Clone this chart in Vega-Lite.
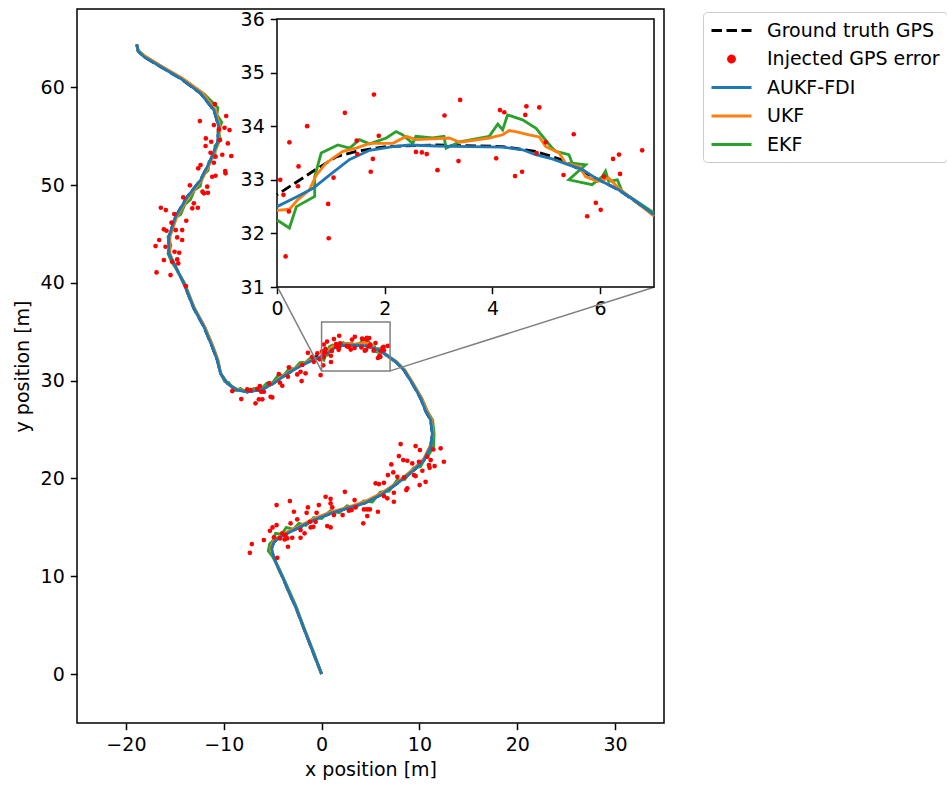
{
"$schema":"https://vega.github.io/schema/vega-lite/v6.json",
"width":587,"height":714,"autosize":"none",
"padding":{"left":77,"top":9,"right":283,"bottom":64},
"background":"white",
"config":{
 "font":"DejaVu Sans",
 "view":{"stroke":"black","strokeWidth":1.5},
 "axis":{"labelFont":"DejaVu Sans","labelFontSize":19,"labelColor":"black","titleFont":"DejaVu Sans","titleFontSize":19,"titleFontWeight":"normal","titleColor":"black","tickColor":"black","tickSize":6.7,"tickWidth":1.5,"domain":false,"grid":false,"labelPadding":6,"labelFlush":false,"labelOverlap":false}
},
"datasets":{
 "gt":[{"x":0,"y":0},{"x":-0.9,"y":2.3},{"x":-1.81,"y":4.67},{"x":-2.66,"y":6.88},{"x":-3.4,"y":8.5},{"x":-3.85,"y":9.6},{"x":-4.5,"y":11.0},{"x":-4.95,"y":12.1},{"x":-5.1,"y":12.9},{"x":-4.87,"y":13.5},{"x":-4.3,"y":14.0},{"x":-3.6,"y":14.35},{"x":-2.49,"y":14.9},{"x":-0.79,"y":15.75},{"x":0.92,"y":16.43},{"x":2.63,"y":16.94},{"x":4.33,"y":17.45},{"x":6.03,"y":18.3},{"x":7.74,"y":19.5},{"x":9.44,"y":20.86},{"x":10.46,"y":21.88},{"x":11.15,"y":23.24},{"x":11.32,"y":24.61},{"x":11.15,"y":25.97},{"x":10.63,"y":26.9},{"x":10.12,"y":28.2},{"x":9.27,"y":29.72},{"x":8.42,"y":31.08},{"x":7.6,"y":31.9},
  {"x":7,"y":32.35},{"x":6.35,"y":32.81},{"x":5.8,"y":33.09},{"x":5.3,"y":33.37},{"x":4.8,"y":33.53},{"x":4.19,"y":33.62},{"x":2.95,"y":33.65},{"x":2.03,"y":33.62},{"x":1.47,"y":33.53},{"x":1.1,"y":33.43},{"x":0.67,"y":33.16},{"x":0,"y":32.72},
  {"x":-1.12,"y":32.2},{"x":-2.15,"y":31.6},{"x":-3.17,"y":30.91},{"x":-4.19,"y":30.23},{"x":-5.21,"y":29.55},{"x":-6.24,"y":29.04},{"x":-7.6,"y":28.87},{"x":-8.62,"y":29.04},{"x":-9.64,"y":29.72},{"x":-10.33,"y":30.74},{"x":-10.66,"y":32.1},{"x":-11.18,"y":33.47},{"x":-12.03,"y":35.51},{"x":-13.06,"y":37.4},{"x":-14.08,"y":39.95},{"x":-15.1,"y":41.99},{"x":-15.61,"y":43.01},{"x":-15.61,"y":44.71},{"x":-14.93,"y":46.76},{"x":-13.73,"y":48.8},{"x":-12.37,"y":50.51},{"x":-11.35,"y":52.56},{"x":-10.66,"y":54.26},{"x":-10.5,"y":55.96},{"x":-11.01,"y":57.67},{"x":-12.37,"y":59.38},{"x":-14.42,"y":60.9},{"x":-16.46,"y":62.1},{"x":-18.17,"y":63.12},{"x":-18.75,"y":63.7},{"x":-18.9,"y":64.4}],
 "aukf":[{"x":0,"y":0},{"x":-0.9,"y":2.3},{"x":-1.81,"y":4.67},{"x":-2.66,"y":6.88},{"x":-3.4,"y":8.5},{"x":-3.85,"y":9.6},{"x":-4.5,"y":11.0},{"x":-4.95,"y":12.1},{"x":-5.1,"y":12.9},{"x":-4.87,"y":13.5},{"x":-4.3,"y":14.0},{"x":-3.6,"y":14.35},{"x":-2.49,"y":14.9},{"x":-0.79,"y":15.75},{"x":0.92,"y":16.43},{"x":2.63,"y":16.94},{"x":4.33,"y":17.45},{"x":6.03,"y":18.3},{"x":7.74,"y":19.5},{"x":9.44,"y":20.86},{"x":10.46,"y":21.88},{"x":11.15,"y":23.24},{"x":11.32,"y":24.61},{"x":11.15,"y":25.97},{"x":10.63,"y":26.9},{"x":10.12,"y":28.2},{"x":9.27,"y":29.72},{"x":8.42,"y":31.08},{"x":7.6,"y":31.9},
  {"x":7,"y":32.35},{"x":6.66,"y":32.6},{"x":6.35,"y":32.81},{"x":6.04,"y":32.97},{"x":5.92,"y":33.03},{"x":5.67,"y":33.19},{"x":5.42,"y":33.28},{"x":5.11,"y":33.39},{"x":4.8,"y":33.47},{"x":4.56,"y":33.56},{"x":4.19,"y":33.61},{"x":3.57,"y":33.62},{"x":2.95,"y":33.63},{"x":2.46,"y":33.65},{"x":2.15,"y":33.62},{"x":1.72,"y":33.55},{"x":1.35,"y":33.38},{"x":0.98,"y":33.09},{"x":0.67,"y":32.84},{"x":0.36,"y":32.68},{"x":0,"y":32.5},
  {"x":-1.12,"y":32.0},{"x":-2.15,"y":31.5},{"x":-3.17,"y":30.91},{"x":-4.19,"y":30.23},{"x":-5.21,"y":29.55},{"x":-6.24,"y":29.04},{"x":-7.6,"y":28.87},{"x":-8.62,"y":29.04},{"x":-9.64,"y":29.72},{"x":-10.33,"y":30.74},{"x":-10.66,"y":32.1},{"x":-11.18,"y":33.47},{"x":-12.03,"y":35.51},{"x":-13.06,"y":37.4},{"x":-14.08,"y":39.95},{"x":-15.1,"y":41.99},{"x":-15.61,"y":43.01},{"x":-15.61,"y":44.71},{"x":-14.93,"y":46.76},{"x":-13.73,"y":48.8},{"x":-12.37,"y":50.51},{"x":-11.35,"y":52.56},{"x":-10.66,"y":54.26},{"x":-10.5,"y":55.96},{"x":-11.01,"y":57.67},{"x":-12.37,"y":59.38},{"x":-14.42,"y":60.9},{"x":-16.46,"y":62.1},{"x":-18.17,"y":63.12},{"x":-18.75,"y":63.7},{"x":-18.9,"y":64.4}],
 "ukf":[{"x":0,"y":0},{"x":-0.9,"y":2.3},{"x":-1.81,"y":4.67},{"x":-2.66,"y":6.88},{"x":-3.4,"y":8.5},{"x":-3.85,"y":9.6},{"x":-4.5,"y":11.0},{"x":-4.95,"y":12.1},{"x":-5.2,"y":12.9},{"x":-4.9,"y":13.7},{"x":-4.3,"y":14.1},{"x":-3.5,"y":14.55},{"x":-2.49,"y":15.0},{"x":-0.79,"y":15.9},{"x":0.92,"y":16.55},{"x":2.63,"y":17.05},{"x":4.33,"y":17.6},{"x":6.03,"y":18.45},{"x":7.74,"y":19.6},{"x":9.44,"y":21.0},{"x":10.46,"y":22.05},{"x":11.1,"y":23.35},{"x":11.4,"y":24.6},{"x":11.25,"y":25.97},{"x":10.75,"y":26.9},{"x":10.2,"y":28.2},{"x":9.35,"y":29.72},{"x":8.5,"y":31.08},{"x":7.65,"y":31.9},
  {"x":7,"y":32.32},{"x":6.35,"y":32.84},{"x":6.16,"y":33.03},{"x":5.95,"y":32.97},{"x":5.73,"y":33.06},{"x":5.61,"y":33.25},{"x":5.36,"y":33.31},{"x":5.24,"y":33.5},{"x":4.99,"y":33.62},{"x":4.87,"y":33.8},{"x":4.68,"y":33.84},{"x":4.43,"y":33.9},{"x":4.31,"y":33.92},{"x":4.19,"y":33.84},{"x":3.94,"y":33.78},{"x":3.39,"y":33.7},{"x":3.2,"y":33.78},{"x":2.58,"y":33.75},{"x":2.4,"y":33.81},{"x":2.15,"y":33.68},{"x":1.72,"y":33.68},{"x":1.47,"y":33.59},{"x":1.22,"y":33.53},{"x":0.91,"y":33.31},{"x":0.73,"y":33.09},{"x":0.6,"y":32.81},{"x":0.39,"y":32.63},{"x":0.23,"y":32.45},{"x":0,"y":32.43},
  {"x":-1.12,"y":32.1},{"x":-2.15,"y":31.6},{"x":-3.17,"y":31.0},{"x":-4.19,"y":30.3},{"x":-5.21,"y":29.6},{"x":-6.24,"y":29.1},{"x":-7.6,"y":28.95},{"x":-8.62,"y":29.1},{"x":-9.64,"y":29.72},{"x":-10.33,"y":30.74},{"x":-10.6,"y":32.1},{"x":-11.1,"y":33.47},{"x":-11.95,"y":35.51},{"x":-13.0,"y":37.4},{"x":-14.08,"y":39.95},{"x":-15.1,"y":41.99},{"x":-15.5,"y":43.01},{"x":-15.5,"y":44.71},{"x":-14.8,"y":46.76},{"x":-13.6,"y":48.8},{"x":-12.25,"y":50.51},{"x":-11.25,"y":52.56},{"x":-10.55,"y":54.26},{"x":-10.4,"y":55.96},{"x":-10.85,"y":57.67},{"x":-12.15,"y":59.38},{"x":-14.2,"y":60.9},{"x":-16.3,"y":62.1},{"x":-18.1,"y":63.2},{"x":-18.75,"y":63.75},{"x":-18.9,"y":64.4}],
 "ekf":[{"x":0,"y":0},{"x":-0.8,"y":2.2},{"x":-1.75,"y":4.6},{"x":-2.6,"y":6.9},{"x":-3.3,"y":8.5},{"x":-3.8,"y":9.6},{"x":-4.45,"y":11.0},{"x":-5.0,"y":12.0},{"x":-5.45,"y":12.6},{"x":-5.3,"y":13.3},{"x":-5.0,"y":13.6},{"x":-4.7,"y":14.4},{"x":-4.1,"y":14.3},{"x":-3.6,"y":15.0},{"x":-2.9,"y":14.8},{"x":-2.3,"y":15.4},{"x":-1.6,"y":15.2},{"x":-0.8,"y":16.0},{"x":0.0,"y":15.9},{"x":0.9,"y":16.7},{"x":1.8,"y":16.5},{"x":2.6,"y":17.2},{"x":3.4,"y":17.0},{"x":4.3,"y":17.7},{"x":5.2,"y":17.6},{"x":6.0,"y":18.6},{"x":6.9,"y":18.7},{"x":7.7,"y":19.8},{"x":8.5,"y":19.9},{"x":9.4,"y":21.1},{"x":10.1,"y":21.2},{"x":10.6,"y":22.1},{"x":11.0,"y":22.5},{"x":11.45,"y":23.3},{"x":11.5,"y":24.6},{"x":11.35,"y":25.97},{"x":10.8,"y":26.9},{"x":10.25,"y":28.2},{"x":9.35,"y":29.72},{"x":8.5,"y":31.08},{"x":7.65,"y":31.95},
  {"x":7,"y":32.38},{"x":6.41,"y":32.78},{"x":6.32,"y":33.0},{"x":6.16,"y":32.97},{"x":6.1,"y":33.16},{"x":6.04,"y":33.06},{"x":5.85,"y":32.91},{"x":5.42,"y":33.0},{"x":5.73,"y":33.28},{"x":5.48,"y":33.31},{"x":5.42,"y":33.47},{"x":5.18,"y":33.53},{"x":5.11,"y":33.59},{"x":4.81,"y":33.96},{"x":4.56,"y":34.12},{"x":4.28,"y":34.21},{"x":4.19,"y":33.93},{"x":4.1,"y":34.04},{"x":3.94,"y":33.81},{"x":3.39,"y":33.71},{"x":3.14,"y":33.59},{"x":3.1,"y":33.81},{"x":2.89,"y":33.78},{"x":2.58,"y":33.81},{"x":2.52,"y":33.68},{"x":2.33,"y":33.84},{"x":2.21,"y":33.9},{"x":2.03,"y":33.78},{"x":1.72,"y":33.67},{"x":1.53,"y":33.75},{"x":1.35,"y":33.59},{"x":1.13,"y":33.65},{"x":0.82,"y":33.5},{"x":0.7,"y":33.06},{"x":0.7,"y":32.69},{"x":0.36,"y":32.5},{"x":0.23,"y":32.1},{"x":0,"y":32.25},
  {"x":-0.5,"y":32.3},{"x":-1.1,"y":32.35},{"x":-1.6,"y":31.9},{"x":-2.2,"y":31.85},{"x":-2.8,"y":31.2},{"x":-3.3,"y":31.25},{"x":-3.9,"y":30.5},{"x":-4.4,"y":30.6},{"x":-5.0,"y":29.8},{"x":-5.6,"y":29.75},{"x":-6.2,"y":29.1},{"x":-6.9,"y":29.2},{"x":-7.6,"y":28.8},{"x":-8.3,"y":29.2},{"x":-8.9,"y":29.0},{"x":-9.5,"y":29.8},{"x":-9.9,"y":29.9},{"x":-10.33,"y":30.8},{"x":-10.6,"y":32.1},{"x":-11.1,"y":33.5},{"x":-11.95,"y":35.5},{"x":-13.0,"y":37.4},{"x":-14.0,"y":39.95},{"x":-14.9,"y":41.5},{"x":-15.3,"y":42.1},{"x":-15.7,"y":43.0},{"x":-15.4,"y":43.8},{"x":-15.7,"y":44.7},{"x":-15.2,"y":45.5},{"x":-15.0,"y":46.6},{"x":-14.4,"y":47.0},{"x":-14.0,"y":48.0},{"x":-13.4,"y":48.5},{"x":-13.0,"y":49.5},{"x":-12.4,"y":49.9},{"x":-12.2,"y":50.9},{"x":-11.6,"y":51.5},{"x":-11.5,"y":52.4},{"x":-10.9,"y":53.0},{"x":-10.9,"y":54.0},{"x":-10.3,"y":54.6},{"x":-10.6,"y":55.5},{"x":-10.2,"y":56.4},{"x":-10.7,"y":57.2},{"x":-10.6,"y":57.9},{"x":-12.0,"y":59.3},{"x":-14.1,"y":60.8},{"x":-16.3,"y":62.1},{"x":-18.1,"y":63.2},{"x":-18.75,"y":63.75},{"x":-18.9,"y":64.4}],
 "pts":[
  {"x":-10.91,"y":58.28},{"x":-9.75,"y":57.06},{"x":-12.44,"y":56.54},{"x":-11.01,"y":56.13},{"x":-10.5,"y":55.69},{"x":-9.92,"y":55.86},{"x":-9.41,"y":55.62},{"x":-11.83,"y":54.77},{"x":-11.28,"y":54.43},{"x":-10.4,"y":54.6},{"x":-9.58,"y":54.26},{"x":-11.86,"y":53.99},{"x":-11.35,"y":53.3},{"x":-10.15,"y":53.1},{"x":-9.23,"y":52.97},{"x":-10.84,"y":52.9},{"x":-11.01,"y":52.28},{"x":-12.37,"y":52.04},{"x":-12.61,"y":51.71},{"x":-9.85,"y":51.43},{"x":-9.82,"y":51.2},{"x":-11.18,"y":50.85},{"x":-10.84,"y":50.95},{"x":-13.46,"y":49.97},{"x":-11.69,"y":49.83},{"x":-12.03,"y":49.15},{"x":-11.62,"y":49.21},{"x":-12.17,"y":49.32},{"x":-14.14,"y":48.74},{"x":-13.06,"y":48.13},{"x":-12.65,"y":47.68},{"x":-13.22,"y":47.62},{"x":-16.43,"y":47.68},{"x":-15.92,"y":47.44},{"x":-15.06,"y":47.03},{"x":-13.83,"y":46.35},{"x":-15.34,"y":46.15},{"x":-16.12,"y":45.47},{"x":-15.85,"y":45.33},{"x":-14.9,"y":45.4},{"x":-14.25,"y":45.4},{"x":-16.6,"y":44.38},{"x":-14.76,"y":44.65},{"x":-14.25,"y":44.38},{"x":-16.97,"y":43.76},{"x":-15.95,"y":43.69},{"x":-15.03,"y":43.18},{"x":-14.55,"y":43.08},{"x":-16.12,"y":42.33},{"x":-14.76,"y":42.4},{"x":-15.27,"y":42.16},{"x":-14.65,"y":41.99},{"x":-16.87,"y":41.07},{"x":-15.44,"y":40.8},{"x":-13.87,"y":39.67},
  {"x":-9.13,"y":28.94},{"x":-8.21,"y":28.12},{"x":-7.6,"y":29.11},{"x":-7.26,"y":29.04},{"x":-6.57,"y":29.17},{"x":-6.31,"y":29.45},{"x":-6.17,"y":28.87},{"x":-5.9,"y":28.87},{"x":-6.41,"y":28.09},{"x":-6.06,"y":28.09},{"x":-6.75,"y":27.68},{"x":-5.35,"y":29.72},{"x":-5.21,"y":28.35},{"x":-5.04,"y":28.29},{"x":-4.37,"y":30.67},{"x":-4.26,"y":29.79},{"x":-4.02,"y":29.48},{"x":-3.34,"y":31.36},{"x":-3.44,"y":30.4},{"x":-2.49,"y":30.64},{"x":-1.97,"y":31.6},{"x":-2.15,"y":30.91},{"x":-1.64,"y":30.75},{"x":-2.04,"y":29.96},{"x":-1.4,"y":32.85},{"x":-0.95,"y":32.44},{"x":-0.79,"y":31.93},{"x":-0.2,"y":32.18},{"x":-0.1,"y":30.57},{"x":-0.44,"y":32.79},
  {"x":0.06,"y":33.0},{"x":0.12,"y":32.72},{"x":0.23,"y":33.7},{"x":0.22,"y":32.41},{"x":0.16,"y":31.57},{"x":0.4,"y":33.25},{"x":0.39,"y":32.88},{"x":0.56,"y":34.0},{"x":0.95,"y":32.55},{"x":0.96,"y":31.91},{"x":1.05,"y":33.04},{"x":1.26,"y":34.25},{"x":1.48,"y":33.73},{"x":1.49,"y":33.48},{"x":1.74,"y":33.15},{"x":1.78,"y":33.39},{"x":1.8,"y":34.59},{"x":1.89,"y":33.82},{"x":2.58,"y":33.52},{"x":2.69,"y":33.51},{"x":2.78,"y":33.48},{"x":2.98,"y":33.18},{"x":3.11,"y":34.2},{"x":3.37,"y":33.35},{"x":3.4,"y":34.49},{"x":4.07,"y":33.4},{"x":4.14,"y":34.3},{"x":4.22,"y":34.26},{"x":4.42,"y":33.07},{"x":4.55,"y":33.15},{"x":4.61,"y":34.21},{"x":4.63,"y":34.37},{"x":4.87,"y":34.35},{"x":4.82,"y":33.5},{"x":4.99,"y":33.7},{"x":5.32,"y":33.09},{"x":5.51,"y":33.85},{"x":5.76,"y":32.32},{"x":5.92,"y":32.57},{"x":6.01,"y":32.44},{"x":6.07,"y":33.06},{"x":6.24,"y":33.39},{"x":6.35,"y":33.47},{"x":6.37,"y":33.11},{"x":6.78,"y":33.55},
  {"x":8.08,"y":23.52},{"x":9.61,"y":23.31},{"x":10.05,"y":22.9},{"x":11.42,"y":22.97},{"x":12.17,"y":23.08},{"x":7.9,"y":22.29},{"x":8.35,"y":21.88},{"x":8.76,"y":21.81},{"x":7.13,"y":21.44},{"x":9.27,"y":21.54},{"x":9.95,"y":21.71},{"x":10.8,"y":22.22},{"x":11.15,"y":21.88},{"x":12.5,"y":21.71},{"x":10.97,"y":21.37},{"x":11.55,"y":21.27},{"x":10.3,"y":20.79},{"x":11.04,"y":21.09},{"x":7.33,"y":20.62},{"x":6.78,"y":20.35},{"x":7.74,"y":20.17},{"x":8.42,"y":20.11},{"x":9.44,"y":20.35},{"x":9.61,"y":20.25},{"x":10.63,"y":19.66},{"x":10.02,"y":19.33},{"x":5.52,"y":19.5},{"x":5.86,"y":19.43},{"x":6.37,"y":19.56},{"x":8.76,"y":18.99},{"x":8.66,"y":18.81},{"x":7.39,"y":18.54},{"x":2.38,"y":18.64},{"x":6.37,"y":18.2},{"x":6.72,"y":17.97},{"x":7.39,"y":17.62},{"x":5.76,"y":16.6},{"x":4.67,"y":16.84},{"x":4.94,"y":16.84},{"x":4.33,"y":16.84},{"x":4.67,"y":16.16},{"x":4.26,"y":15.41},{"x":3.37,"y":17.79},{"x":3.48,"y":17.04},{"x":3.07,"y":16.77},{"x":2.79,"y":16.7},{"x":2.15,"y":16.26},{"x":0.92,"y":17.92},{"x":0.41,"y":18.13},{"x":0.92,"y":17.45},{"x":1.09,"y":17.04},{"x":-0.28,"y":17.28},{"x":-0.51,"y":16.49},{"x":-1.4,"y":17.04},{"x":-1.53,"y":16.49},{"x":-2.83,"y":16.6},{"x":-3.24,"y":17.69},{"x":-4.6,"y":17.28},{"x":1.26,"y":16.26},{"x":0.58,"y":15.13},{"x":0.92,"y":15.0},{"x":-0.61,"y":15.57},{"x":-0.85,"y":15.06},{"x":-1.12,"y":15.0},{"x":-1.74,"y":14.39},{"x":-1.19,"y":15.57},{"x":-2.49,"y":15.82},{"x":-3.17,"y":15.41},{"x":-5.01,"y":15.0},{"x":-4.6,"y":15.24},{"x":-5.28,"y":14.65},{"x":-4.02,"y":14.39},{"x":-3.0,"y":13.94},{"x":-2.15,"y":13.94},{"x":-3.51,"y":13.87},{"x":-3.78,"y":13.77},{"x":-3.68,"y":14.21},{"x":-4.26,"y":13.87},{"x":-5.9,"y":13.7},{"x":-7.13,"y":13.29},{"x":-7.33,"y":12.4},{"x":-3.44,"y":13.02},{"x":-4.53,"y":11.89},{"x":-4.87,"y":13.98},{"x":-2.15,"y":14.72}
 ],
 "box":[{"x":0,"y":31,"x2":7,"y2":36}],
 "conn":[{"x":-4.5,"y":39.57,"x2":0,"y2":31},{"x":34.05,"y":39.57,"x2":7,"y2":31}]
},
"layer":[
 {"encoding":{
   "x":{"field":"x","type":"quantitative","scale":{"domain":[-25,35],"nice":false,"zero":false},"axis":{"values":[-20,-10,0,10,20,30],"title":"x position [m]","titlePadding":6}},
   "y":{"field":"y","type":"quantitative","scale":{"domain":[-5,68],"nice":false,"zero":false},"axis":{"values":[0,10,20,30,40,50,60],"title":"y position [m]","titlePadding":8}}},
  "layer":[
   {"data":{"name":"gt"},"mark":{"type":"line","strokeWidth":2.85,"strokeDash":[10.5,4.5]},
    "encoding":{"order":{"value":null},"color":{"datum":"Ground truth GPS","type":"nominal",
      "scale":{"domain":["Ground truth GPS","Injected GPS error","AUKF-FDI","UKF","EKF"],"range":["#000000","#ff0000","#1f77b4","#ff7f0e","#2ca02c"]},
      "legend":{"title":null,"orient":"none","legendX":626,"legendY":3,"labelFont":"DejaVu Sans","labelFontSize":19,"labelColor":"black","labelLimit":400,"symbolSize":400,"symbolStrokeWidth":2.85,"rowPadding":6.5,"padding":7,"strokeColor":"#cccccc","fillColor":"#ffffff","cornerRadius":4,"labelOffset":34,
       "encode":{"symbols":{"update":{
         "shape":{"signal":"datum.label === 'Injected GPS error' ? 'M1.3,0A0.3,0.3,0,1,1,0.7,0A0.3,0.3,0,1,1,1.3,0Z' : 'M-1,0H3'"},
         "size":{"value":400},
         "fill":{"signal":"datum.label === 'Injected GPS error' ? '#ff0000' : 'transparent'"},
         "stroke":{"signal":"datum.label === 'Injected GPS error' ? 'transparent' : datum.label === 'Ground truth GPS' ? '#000000' : datum.label === 'AUKF-FDI' ? '#1f77b4' : datum.label === 'UKF' ? '#ff7f0e' : '#2ca02c'"},
         "strokeWidth":{"value":2.85},
         "strokeDash":{"signal":"datum.label === 'Ground truth GPS' ? [10.5,4.5] : [1,0]"},
         "opacity":{"value":1}}}}}}}},
   {"data":{"name":"ekf"},"mark":{"type":"line","strokeWidth":2.85},"encoding":{"order":{"value":null},"color":{"datum":"EKF","type":"nominal"}}},
   {"data":{"name":"ukf"},"mark":{"type":"line","strokeWidth":2.85},"encoding":{"order":{"value":null},"color":{"datum":"UKF","type":"nominal"}}},
   {"data":{"name":"aukf"},"mark":{"type":"line","strokeWidth":2.85},"encoding":{"order":{"value":null},"color":{"datum":"AUKF-FDI","type":"nominal"}}},
   {"data":{"name":"pts"},"mark":{"type":"circle","size":22,"opacity":1},"encoding":{"color":{"datum":"Injected GPS error","type":"nominal"}}},
   {"data":{"name":"box"},"mark":{"type":"rect","filled":false,"stroke":"#808080","strokeWidth":1.5},"encoding":{"x2":{"field":"x2"},"y2":{"field":"y2"}}},
   {"data":{"name":"conn"},"mark":{"type":"rule","stroke":"#808080","strokeWidth":1.5},"encoding":{"x2":{"field":"x2"},"y2":{"field":"y2"}}}
  ]},
 {"encoding":{
   "x":{"field":"x","type":"quantitative","scale":{"domain":[0,7],"range":[200,577],"nice":false,"zero":false},"axis":{"orient":"bottom","offset":-436,"values":[0,2,4,6],"title":null}},
   "y":{"field":"y","type":"quantitative","scale":{"domain":[31,36],"range":[278,10],"nice":false,"zero":false},"axis":{"orient":"left","offset":-200,"values":[31,32,33,34,35,36],"title":null}}},
  "layer":[
   {"data":{"name":"box"},"mark":{"type":"rect","fill":"#ffffff","stroke":"#000000","strokeWidth":1.5},"encoding":{"x2":{"field":"x2"},"y2":{"field":"y2"}}},
   {"data":{"name":"gt"},"transform":[{"filter":"datum.x>=0 && datum.x<=7 && datum.y>=31 && datum.y<=36"}],"mark":{"type":"line","strokeWidth":2.85,"strokeDash":[10.5,4.5]},"encoding":{"order":{"value":null},"color":{"datum":"Ground truth GPS","type":"nominal"}}},
   {"data":{"name":"ekf"},"transform":[{"filter":"datum.x>=0 && datum.x<=7 && datum.y>=31 && datum.y<=36"}],"mark":{"type":"line","strokeWidth":2.85},"encoding":{"order":{"value":null},"color":{"datum":"EKF","type":"nominal"}}},
   {"data":{"name":"ukf"},"transform":[{"filter":"datum.x>=0 && datum.x<=7 && datum.y>=31 && datum.y<=36"}],"mark":{"type":"line","strokeWidth":2.85},"encoding":{"order":{"value":null},"color":{"datum":"UKF","type":"nominal"}}},
   {"data":{"name":"aukf"},"transform":[{"filter":"datum.x>=0 && datum.x<=7 && datum.y>=31 && datum.y<=36"}],"mark":{"type":"line","strokeWidth":2.85},"encoding":{"order":{"value":null},"color":{"datum":"AUKF-FDI","type":"nominal"}}},
   {"data":{"name":"pts"},"transform":[{"filter":"datum.x>=0 && datum.x<=7 && datum.y>=31 && datum.y<=36"}],"mark":{"type":"circle","size":22,"opacity":1},"encoding":{"color":{"datum":"Injected GPS error","type":"nominal"}}}
  ]}
],
"resolve":{"scale":{"x":"independent","y":"independent"}}
}
